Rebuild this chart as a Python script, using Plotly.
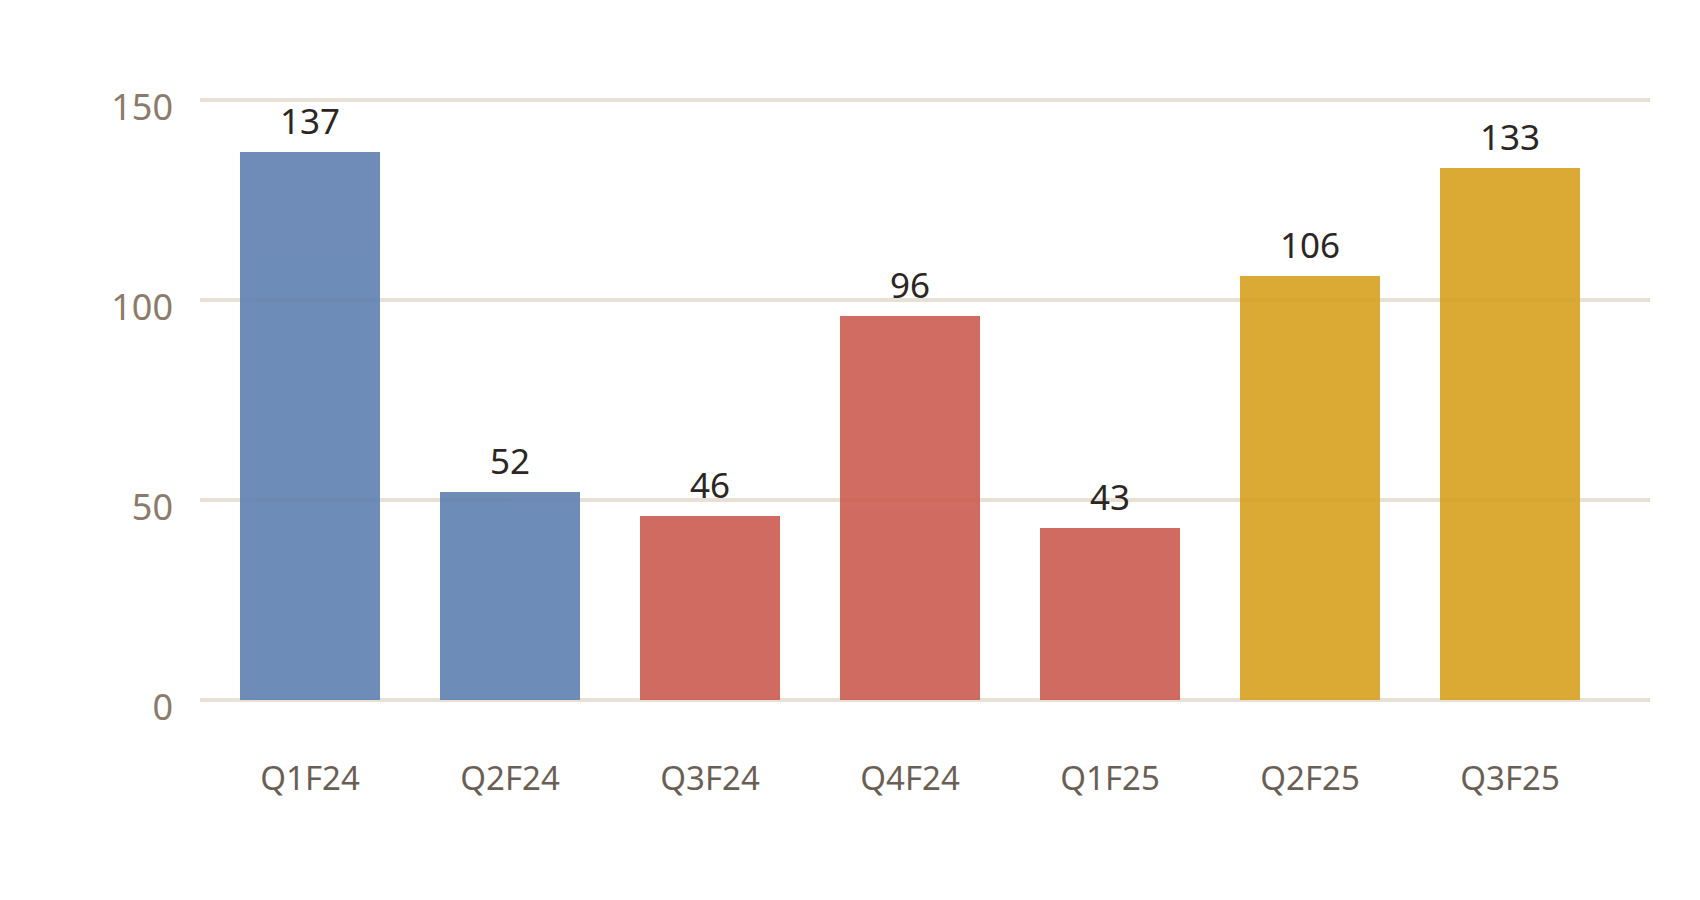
import plotly.graph_objects as go

categories = ["Q1F24", "Q2F24", "Q3F24", "Q4F24", "Q1F25", "Q2F25", "Q3F25"]
values = [137, 52, 46, 96, 43, 106, 133]
bar_colors = ["#5f80b1", "#5f80b1", "#cb5c51", "#cb5c51", "#cb5c51", "#d6a11f", "#d6a11f"]
y_ticks = [0, 50, 100, 150]

fig = go.Figure()
fig.add_trace(go.Bar(
    x=categories,
    y=values,
    marker=dict(color=bar_colors, line=dict(width=0)),
    opacity=0.9,
    width=0.7,
    hoverinfo="x+y",
))

for c, v in zip(categories, values):
    fig.add_annotation(
        x=c, y=v, text=str(v), showarrow=False,
        yanchor="middle", yshift=32,
        font=dict(family="Noto Sans, Open Sans, sans-serif", size=35, color="#2b2623"),
    )

fig.update_layout(
    width=1700, height=900,
    margin=dict(l=192, r=58, t=80, b=196),
    paper_bgcolor="white", plot_bgcolor="white",
    showlegend=False,
    font=dict(family="Noto Sans, Open Sans, sans-serif"),
)
fig.update_xaxes(
    range=[-0.55, 6.7],
    showgrid=False, zeroline=False, showline=False,
    ticks="", ticklabelstandoff=44,
    tickfont=dict(size=33, color="#6b5f55"),
)
fig.update_yaxes(
    range=[-3, 153],
    tickvals=y_ticks,
    showgrid=True, gridcolor="#e8e0d5", gridwidth=4,
    zeroline=False, showline=False,
    ticks="", ticklabelstandoff=26, ticklabelshift=7,
    tickfont=dict(size=36, color="#8b7b6b"),
)

fig.write_html("out.html")
